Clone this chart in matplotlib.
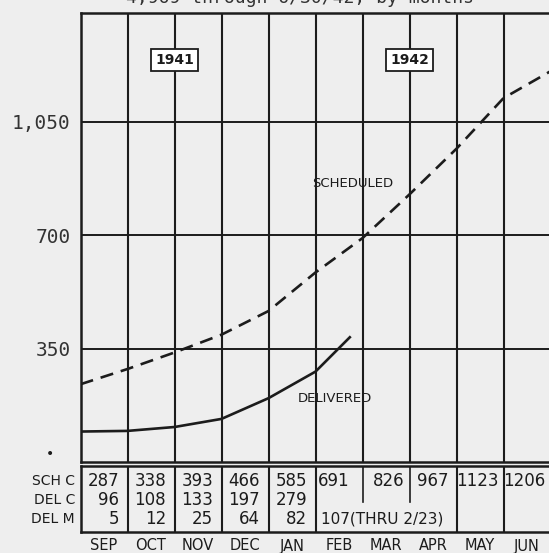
import matplotlib
matplotlib.use("Agg")
import matplotlib.pyplot as plt

# cumulative numbers (x = end of month, 0 = start of SEP)
months = ["SEP", "OCT", "NOV", "DEC", "JAN", "FEB", "MAR", "APR", "MAY", "JUN"]
sched_x = [0, 1, 2, 3, 4, 5, 6, 7, 8, 9, 10]
sched_y = [240, 287, 338, 393, 466, 585, 691, 826, 967, 1123, 1206]
deliv_x = [0, 1, 2, 3, 4, 5, 5.73]
deliv_y = [94, 96, 108, 133, 197, 279, 385]

sch_c = ["287", "338", "393", "466", "585"]
del_c = ["96", "108", "133", "197", "279"]
del_m = ["5", "12", "25", "64", "82"]
row_labels = ["SCH C", "DEL C", "DEL M"]
yticks = [350, 700, 1050]
ytick_labels = ["350", "700", "1,050"]

bg = "#eeeeee"
ink = "#1c1c1c"
W, H = 549, 553

fig = plt.figure(figsize=(W / 100, H / 100), dpi=100, facecolor=bg)

def fx(px):
    return px / W

def fy(py):
    return 1 - py / H

# main chart
ax = fig.add_axes([fx(80.5), fy(462), fx(470), (462 - 12.6) / H])
ax.set_facecolor(bg)
ax.set_xlim(0, 10)
ax.set_ylim(0, 1387)
for s in ax.spines.values():
    s.set_color(ink)
    s.set_linewidth(1.8)
for xv in range(1, 10):
    ax.axvline(xv, color=ink, lw=1.5)
for yv in yticks:
    ax.axhline(yv, color=ink, lw=1.4)
ax.set_xticks([])
ax.set_yticks(yticks)
ax.set_yticklabels(ytick_labels, family="DejaVu Sans Mono", fontsize=14, color="#333333")
ax.tick_params(axis="y", length=0, pad=7)

ax.plot(sched_x, sched_y, color=ink, lw=1.9, ls=(0, (5, 3)), solid_capstyle="butt")
ax.plot(deliv_x, deliv_y, color=ink, lw=1.9)

ax.text(5.8, 860, "SCHEDULED", fontsize=9.5, color=ink, ha="center", va="center")
ax.text(5.42, 195, "DELIVERED", fontsize=9.5, color=ink, ha="center", va="center")

for xv, yr in [(2, "1941"), (7, "1942")]:
    ax.text(xv, 1240, yr, fontsize=10, fontweight="bold", color=ink, ha="center", va="center",
            bbox=dict(boxstyle="square,pad=0.28", fc="white", ec=ink, lw=1.3))

# data table under the chart
tb = fig.add_axes([fx(80.5), fy(532), fx(470), (532 - 466) / H])
tb.set_facecolor(bg)
tb.set_xlim(0, 10)
tb.set_ylim(66, 0)
tb.set_xticks([])
tb.set_yticks([])
for s in tb.spines.values():
    s.set_color(ink)
    s.set_linewidth(1.8)
for xv in [1, 2, 3, 4, 5, 8, 9]:
    tb.axvline(xv, color=ink, lw=1.5)
for xv in [6, 7]:
    tb.plot([xv, xv], [0, 36], color=ink, lw=1.2)

rows_y = [15, 34, 53]
for i in range(5):
    for vals, ry in zip([sch_c, del_c, del_m], rows_y):
        tb.text(i + 1 - 0.18, ry, vals[i], fontsize=12, color=ink, ha="right", va="center")
tb.text(5.05, rows_y[0], "691", fontsize=12, color=ink, ha="left", va="center")
tb.text(6.9, rows_y[0], "826", fontsize=12, color=ink, ha="right", va="center")
tb.text(7.82, rows_y[0], "967", fontsize=12, color=ink, ha="right", va="center")
tb.text(8.45, rows_y[0], "1123", fontsize=12, color=ink, ha="center", va="center")
tb.text(9.45, rows_y[0], "1206", fontsize=12, color=ink, ha="center", va="center")
tb.text(5.12, rows_y[2], "107(THRU 2/23)", fontsize=11, color=ink, ha="left", va="center")

for lab, ry in zip(row_labels, [481, 500, 519]):
    fig.text(fx(75), fy(ry), lab, fontsize=10, color=ink, ha="right", va="center")

for i, m in enumerate(months):
    fig.text(fx(80.5 + 47 * (i + 0.5)), fy(546), m, fontsize=10.5, color=ink,
             ha="center", va="center")

fig.text(fx(50), fy(454), "\u2022", fontsize=10, color=ink, ha="center", va="center")

# title line, only its lower edge shows at the top of the page
fig.text(fx(300), fy(3), "4,969 through 6/30/42, by months", family="DejaVu Sans Mono",
         fontsize=13, color="#333333", ha="center", va="baseline")

fig.savefig("out.png", dpi=100, facecolor=bg)
